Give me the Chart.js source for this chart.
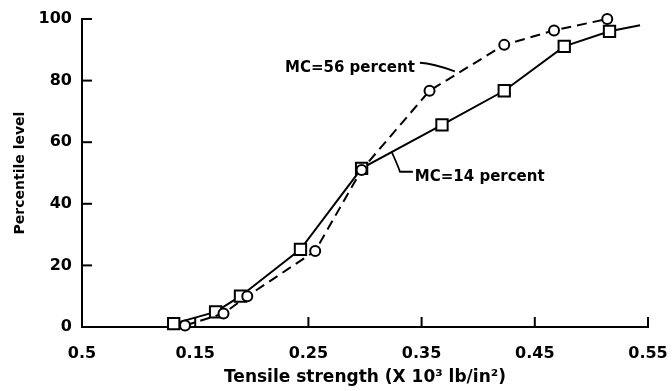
<!DOCTYPE html>
<html><head><meta charset="utf-8">
<script src="https://cdn.jsdelivr.net/npm/chart.js@4/dist/chart.umd.min.js"></script>
<style>html,body{margin:0;padding:0;background:#fff}</style>
</head><body>
<canvas id="c" width="672" height="391" style="width:672px;height:391px;display:block"></canvas>
<script>
// Data
const mc56X = [0.141, 0.175, 0.196, 0.256, 0.297, 0.357, 0.423, 0.467, 0.514];
const mc56Y = [0.5, 4.4, 10, 24.7, 51, 76.7, 91.6, 96.3, 100];
const mc14X = [0.131, 0.168, 0.190, 0.243, 0.297, 0.368, 0.423, 0.476, 0.516, 0.543];
const mc14Y = [1.1, 4.9, 10, 25.2, 51.5, 65.6, 76.7, 91.1, 96, 98];
const mc14Marker = [1, 1, 1, 1, 1, 1, 1, 1, 1, 0]; // last point: line end, no marker
const xTickValues = [0.05, 0.15, 0.25, 0.35, 0.45, 0.55];
const xTickLabels = ['0.5', '0.15', '0.25', '0.35', '0.45', '0.55'];
const yTickValues = [0, 20, 40, 60, 80, 100];
const labelMC56 = 'MC=56 percent';
const labelMC14 = 'MC=14 percent';
// annotation anchors in data units
const ann56 = {text: [0.344, 84.2], leader: [[0.3485, 85.8], [0.3600, 85.6], [0.3794, 83.0]]};
const ann14 = {text: [0.344, 48.7], leader: [[0.3235, 56.9], [0.3309, 50.4], [0.3423, 50.4]]};

const FONT = '"DejaVu Sans", sans-serif';

const pts = (xs, ys) => xs.map((x, i) => ({x, y: ys[i]}));

const overlay = {
  id: 'overlay',
  afterDatasetsDraw(chart) {
    const {ctx, scales: {x, y}, chartArea: a} = chart;
    ctx.save();
    ctx.strokeStyle = '#000';
    ctx.lineWidth = 2;
    // inward tick marks
    xTickValues.forEach(v => {
      const px = x.getPixelForValue(v);
      ctx.beginPath(); ctx.moveTo(px, a.bottom); ctx.lineTo(px, a.bottom - 10); ctx.stroke();
    });
    yTickValues.forEach(v => {
      const py = y.getPixelForValue(v);
      ctx.beginPath(); ctx.moveTo(a.left, py); ctx.lineTo(a.left + 10, py); ctx.stroke();
    });
    // annotations
    const P = p => [x.getPixelForValue(p[0]), y.getPixelForValue(p[1])];
    ctx.lineWidth = 1.8;
    let l = ann56.leader.map(P);
    ctx.beginPath(); ctx.moveTo(l[0][0], l[0][1]);
    ctx.quadraticCurveTo(l[1][0], l[1][1], l[2][0], l[2][1]); ctx.stroke();
    l = ann14.leader.map(P);
    ctx.beginPath(); ctx.moveTo(l[0][0], l[0][1]);
    ctx.quadraticCurveTo(l[1][0] - 2, l[1][1] - 6, l[1][0], l[1][1]);
    ctx.lineTo(l[2][0], l[2][1]); ctx.stroke();
    ctx.fillStyle = '#000';
    ctx.font = 'bold 15px ' + FONT;
    ctx.textBaseline = 'middle';
    let t = P(ann56.text);
    ctx.textAlign = 'right'; ctx.fillText(labelMC56, t[0], t[1]);
    t = P(ann14.text);
    ctx.textAlign = 'left'; ctx.fillText(labelMC14, t[0], t[1]);
    ctx.restore();
  }
};

new Chart(document.getElementById('c'), {
  type: 'scatter',
  data: {
    datasets: [
      {
        label: labelMC14,
        data: pts(mc14X, mc14Y),
        showLine: true,
        clip: false,
        borderColor: '#000',
        borderWidth: 2,
        pointStyle: 'rect',
        pointRadius: mc14Marker.map(m => m ? 8 : 0),
        pointBorderWidth: 2,
        pointBorderColor: '#000',
        pointBackgroundColor: '#fff',
        order: 2
      },
      {
        label: labelMC56,
        data: pts(mc56X, mc56Y),
        showLine: true,
        clip: false,
        borderColor: '#000',
        borderWidth: 2,
        borderDash: [10, 6],
        pointStyle: 'circle',
        pointRadius: 5,
        pointBorderWidth: 2,
        pointBorderColor: '#000',
        pointBackgroundColor: '#fff',
        order: 1
      }
    ]
  },
  options: {
    responsive: false,
    animation: false,
    devicePixelRatio: 1,
    layout: {padding: {left: 0, right: 24, top: 19, bottom: 0}},
    plugins: {legend: {display: false}, tooltip: {enabled: false}},
    scales: {
      x: {
        type: 'linear', min: 0.05, max: 0.55,
        afterBuildTicks: s => { s.ticks = xTickValues.map(v => ({value: v})); },
        afterFit: s => { s.height = 64; s.paddingLeft = 0; s.paddingRight = 0; },
        grid: {display: false, drawTicks: false},
        border: {display: true, color: '#000', width: 2},
        ticks: {
          color: '#000', padding: 17, maxRotation: 0, autoSkip: false,
          font: {family: FONT, size: 16, weight: 'bold'},
          callback: (v, i) => xTickLabels[i]
        },
        title: {
          display: true, text: 'Tensile strength (X 10³ lb/in²)', color: '#000',
          font: {family: FONT, size: 17, weight: 'bold'}, padding: {top: 0, bottom: 3}
        }
      },
      y: {
        type: 'linear', min: 0, max: 100,
        afterBuildTicks: s => { s.ticks = yTickValues.map(v => ({value: v})); },
        afterFit: s => { s.width = 82; s.paddingTop = 0; s.paddingBottom = 0; },
        grid: {display: false, drawTicks: false},
        border: {display: true, color: '#000', width: 2},
        ticks: {
          color: '#000', padding: 10,
          font: {family: FONT, size: 16, weight: 'bold'},
          callback: v => String(v)
        },
        title: {
          display: true, text: 'Percentile level', color: '#000',
          font: {family: FONT, size: 14, weight: 'bold'}, padding: {top: 12, bottom: 0}
        }
      }
    }
  },
  plugins: [overlay]
});
</script>
</body></html>
